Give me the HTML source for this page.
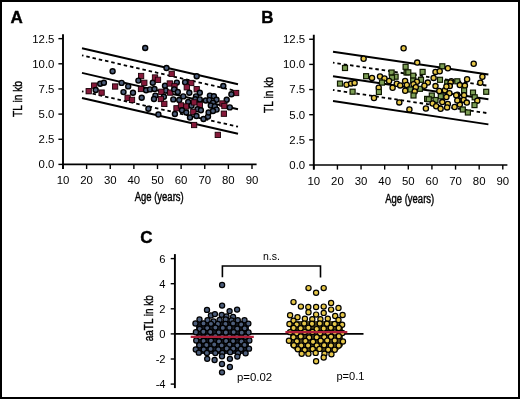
<!DOCTYPE html>
<html><head><meta charset="utf-8"><style>
html,body{margin:0;padding:0;background:#fff;}
svg{display:block;font-family:"Liberation Sans",sans-serif;will-change:transform;}
text{fill:#000;}
</style></head><body>
<svg width="520" height="399" viewBox="0 0 520 399">
<rect x="0" y="0" width="520" height="399" fill="#fff"/>
<line x1="63.0" y1="34.150000000000006" x2="63.0" y2="169.0" stroke="#000" stroke-width="1.9"/>
<line x1="62.1" y1="164.4" x2="256.6" y2="164.4" stroke="#000" stroke-width="1.7"/>
<line x1="58.4" y1="164.4" x2="63.0" y2="164.4" stroke="#000" stroke-width="1.4"/>
<text x="54.4" y="168.3" font-size="11.4" text-anchor="end" font-weight="normal">0.0</text>
<line x1="58.4" y1="139.25" x2="63.0" y2="139.25" stroke="#000" stroke-width="1.4"/>
<text x="54.4" y="143.15" font-size="11.4" text-anchor="end" font-weight="normal">2.5</text>
<line x1="58.4" y1="114.1" x2="63.0" y2="114.1" stroke="#000" stroke-width="1.4"/>
<text x="54.4" y="118.0" font-size="11.4" text-anchor="end" font-weight="normal">5.0</text>
<line x1="58.4" y1="88.95" x2="63.0" y2="88.95" stroke="#000" stroke-width="1.4"/>
<text x="54.4" y="92.85000000000001" font-size="11.4" text-anchor="end" font-weight="normal">7.5</text>
<line x1="58.4" y1="63.8" x2="63.0" y2="63.8" stroke="#000" stroke-width="1.4"/>
<text x="54.4" y="67.7" font-size="11.4" text-anchor="end" font-weight="normal">10.0</text>
<line x1="58.4" y1="38.650000000000006" x2="63.0" y2="38.650000000000006" stroke="#000" stroke-width="1.4"/>
<text x="54.4" y="42.550000000000004" font-size="11.4" text-anchor="end" font-weight="normal">12.5</text>
<line x1="63.0" y1="164.4" x2="63.0" y2="169.0" stroke="#000" stroke-width="1.4"/>
<text x="63.0" y="183.70000000000002" font-size="11.4" text-anchor="middle" font-weight="normal">10</text>
<line x1="86.625" y1="164.4" x2="86.625" y2="169.0" stroke="#000" stroke-width="1.4"/>
<text x="86.625" y="183.70000000000002" font-size="11.4" text-anchor="middle" font-weight="normal">20</text>
<line x1="110.25" y1="164.4" x2="110.25" y2="169.0" stroke="#000" stroke-width="1.4"/>
<text x="110.25" y="183.70000000000002" font-size="11.4" text-anchor="middle" font-weight="normal">30</text>
<line x1="133.875" y1="164.4" x2="133.875" y2="169.0" stroke="#000" stroke-width="1.4"/>
<text x="133.875" y="183.70000000000002" font-size="11.4" text-anchor="middle" font-weight="normal">40</text>
<line x1="157.5" y1="164.4" x2="157.5" y2="169.0" stroke="#000" stroke-width="1.4"/>
<text x="157.5" y="183.70000000000002" font-size="11.4" text-anchor="middle" font-weight="normal">50</text>
<line x1="181.125" y1="164.4" x2="181.125" y2="169.0" stroke="#000" stroke-width="1.4"/>
<text x="181.125" y="183.70000000000002" font-size="11.4" text-anchor="middle" font-weight="normal">60</text>
<line x1="204.75" y1="164.4" x2="204.75" y2="169.0" stroke="#000" stroke-width="1.4"/>
<text x="204.75" y="183.70000000000002" font-size="11.4" text-anchor="middle" font-weight="normal">70</text>
<line x1="228.375" y1="164.4" x2="228.375" y2="169.0" stroke="#000" stroke-width="1.4"/>
<text x="228.375" y="183.70000000000002" font-size="11.4" text-anchor="middle" font-weight="normal">80</text>
<line x1="252.0" y1="164.4" x2="252.0" y2="169.0" stroke="#000" stroke-width="1.4"/>
<text x="252.0" y="183.70000000000002" font-size="11.4" text-anchor="middle" font-weight="normal">90</text>
<text x="10.5" y="22.8" font-size="17" text-anchor="start" font-weight="bold" stroke="#000" stroke-width="0.4">A</text>
<line x1="313.8" y1="34.75" x2="313.8" y2="169.6" stroke="#000" stroke-width="1.9"/>
<line x1="312.90000000000003" y1="165.0" x2="507.40000000000003" y2="165.0" stroke="#000" stroke-width="1.7"/>
<line x1="309.2" y1="165.0" x2="313.8" y2="165.0" stroke="#000" stroke-width="1.4"/>
<text x="305.2" y="168.9" font-size="11.4" text-anchor="end" font-weight="normal">0.0</text>
<line x1="309.2" y1="139.85" x2="313.8" y2="139.85" stroke="#000" stroke-width="1.4"/>
<text x="305.2" y="143.75" font-size="11.4" text-anchor="end" font-weight="normal">2.5</text>
<line x1="309.2" y1="114.69999999999999" x2="313.8" y2="114.69999999999999" stroke="#000" stroke-width="1.4"/>
<text x="305.2" y="118.6" font-size="11.4" text-anchor="end" font-weight="normal">5.0</text>
<line x1="309.2" y1="89.55" x2="313.8" y2="89.55" stroke="#000" stroke-width="1.4"/>
<text x="305.2" y="93.45" font-size="11.4" text-anchor="end" font-weight="normal">7.5</text>
<line x1="309.2" y1="64.39999999999999" x2="313.8" y2="64.39999999999999" stroke="#000" stroke-width="1.4"/>
<text x="305.2" y="68.3" font-size="11.4" text-anchor="end" font-weight="normal">10.0</text>
<line x1="309.2" y1="39.25" x2="313.8" y2="39.25" stroke="#000" stroke-width="1.4"/>
<text x="305.2" y="43.15" font-size="11.4" text-anchor="end" font-weight="normal">12.5</text>
<line x1="313.8" y1="165.0" x2="313.8" y2="169.6" stroke="#000" stroke-width="1.4"/>
<text x="313.8" y="184.9" font-size="11.4" text-anchor="middle" font-weight="normal">10</text>
<line x1="337.425" y1="165.0" x2="337.425" y2="169.6" stroke="#000" stroke-width="1.4"/>
<text x="337.425" y="184.9" font-size="11.4" text-anchor="middle" font-weight="normal">20</text>
<line x1="361.05" y1="165.0" x2="361.05" y2="169.6" stroke="#000" stroke-width="1.4"/>
<text x="361.05" y="184.9" font-size="11.4" text-anchor="middle" font-weight="normal">30</text>
<line x1="384.675" y1="165.0" x2="384.675" y2="169.6" stroke="#000" stroke-width="1.4"/>
<text x="384.675" y="184.9" font-size="11.4" text-anchor="middle" font-weight="normal">40</text>
<line x1="408.3" y1="165.0" x2="408.3" y2="169.6" stroke="#000" stroke-width="1.4"/>
<text x="408.3" y="184.9" font-size="11.4" text-anchor="middle" font-weight="normal">50</text>
<line x1="431.925" y1="165.0" x2="431.925" y2="169.6" stroke="#000" stroke-width="1.4"/>
<text x="431.925" y="184.9" font-size="11.4" text-anchor="middle" font-weight="normal">60</text>
<line x1="455.55" y1="165.0" x2="455.55" y2="169.6" stroke="#000" stroke-width="1.4"/>
<text x="455.55" y="184.9" font-size="11.4" text-anchor="middle" font-weight="normal">70</text>
<line x1="479.175" y1="165.0" x2="479.175" y2="169.6" stroke="#000" stroke-width="1.4"/>
<text x="479.175" y="184.9" font-size="11.4" text-anchor="middle" font-weight="normal">80</text>
<line x1="502.8" y1="165.0" x2="502.8" y2="169.6" stroke="#000" stroke-width="1.4"/>
<text x="502.8" y="184.9" font-size="11.4" text-anchor="middle" font-weight="normal">90</text>
<text x="261.3" y="22.8" font-size="17" text-anchor="start" font-weight="bold" stroke="#000" stroke-width="0.4">B</text>
<line x1="82" y1="48.3" x2="238" y2="84.2" stroke="#000" stroke-width="1.9"/>
<line x1="82" y1="55.4" x2="238" y2="91.4" stroke="#000" stroke-width="1.8" stroke-dasharray="3.5 2.9" stroke-dashoffset="2"/>
<line x1="82" y1="72.9" x2="238" y2="109.2" stroke="#000" stroke-width="1.9"/>
<line x1="82" y1="91.30000000000001" x2="238" y2="126.7" stroke="#000" stroke-width="1.8" stroke-dasharray="3.5 2.9" stroke-dashoffset="2"/>
<line x1="82" y1="98.0" x2="238" y2="133.8" stroke="#000" stroke-width="1.9"/>
<line x1="333" y1="51.8" x2="488.4" y2="74.5" stroke="#000" stroke-width="1.9"/>
<line x1="333" y1="62.699999999999996" x2="488.4" y2="85.80000000000001" stroke="#000" stroke-width="1.8" stroke-dasharray="3.5 2.9" stroke-dashoffset="2"/>
<line x1="333" y1="76.2" x2="488.4" y2="99.30000000000001" stroke="#000" stroke-width="1.9"/>
<line x1="333" y1="90.0" x2="488.4" y2="113.30000000000001" stroke="#000" stroke-width="1.8" stroke-dasharray="3.5 2.9" stroke-dashoffset="2"/>
<line x1="333" y1="101.0" x2="488.4" y2="124.4" stroke="#000" stroke-width="1.9"/>
<text transform="translate(21.9,99.0) rotate(-90)" font-size="13.2" text-anchor="middle" textLength="36" lengthAdjust="spacingAndGlyphs" font-weight="normal" stroke="#000" stroke-width="0.4">TL in kb</text>
<text transform="translate(272.5,95.0) rotate(-90)" font-size="13.2" text-anchor="middle" textLength="36" lengthAdjust="spacingAndGlyphs" font-weight="normal" stroke="#000" stroke-width="0.4">TL in kb</text>
<text x="159.2" y="200.8" font-size="12.5" text-anchor="middle" textLength="49" lengthAdjust="spacingAndGlyphs" font-weight="normal" stroke="#000" stroke-width="0.4">Age (years)</text>
<text x="409.7" y="203.4" font-size="12.5" text-anchor="middle" textLength="49" lengthAdjust="spacingAndGlyphs" font-weight="normal" stroke="#000" stroke-width="0.4">Age (years)</text>
<line x1="174.9" y1="254.09999999999997" x2="174.9" y2="388.09999999999997" stroke="#000" stroke-width="1.9"/>
<line x1="170.70000000000002" y1="258.59999999999997" x2="174.9" y2="258.59999999999997" stroke="#000" stroke-width="1.4"/>
<text x="165.6" y="262.49999999999994" font-size="11.2" text-anchor="end" font-weight="normal">6</text>
<line x1="170.70000000000002" y1="283.7" x2="174.9" y2="283.7" stroke="#000" stroke-width="1.4"/>
<text x="165.6" y="287.59999999999997" font-size="11.2" text-anchor="end" font-weight="normal">4</text>
<line x1="170.70000000000002" y1="308.79999999999995" x2="174.9" y2="308.79999999999995" stroke="#000" stroke-width="1.4"/>
<text x="165.6" y="312.69999999999993" font-size="11.2" text-anchor="end" font-weight="normal">2</text>
<line x1="170.70000000000002" y1="333.9" x2="174.9" y2="333.9" stroke="#000" stroke-width="1.4"/>
<text x="165.6" y="337.79999999999995" font-size="11.2" text-anchor="end" font-weight="normal">0</text>
<line x1="170.70000000000002" y1="359.0" x2="174.9" y2="359.0" stroke="#000" stroke-width="1.4"/>
<text x="165.6" y="362.9" font-size="11.2" text-anchor="end" font-weight="normal">-2</text>
<line x1="170.70000000000002" y1="384.09999999999997" x2="174.9" y2="384.09999999999997" stroke="#000" stroke-width="1.4"/>
<text x="165.6" y="387.99999999999994" font-size="11.2" text-anchor="end" font-weight="normal">-4</text>
<line x1="174.9" y1="333.9" x2="363.5" y2="333.9" stroke="#000" stroke-width="1.8"/>
<text x="140.3" y="243.3" font-size="17" text-anchor="start" font-weight="bold" stroke="#000" stroke-width="0.4">C</text>
<text transform="translate(152.8,318.2) rotate(-90)" font-size="13.2" text-anchor="middle" textLength="46" lengthAdjust="spacingAndGlyphs" font-weight="normal" stroke="#000" stroke-width="0.4">aaTL in kb</text>
<path d="M222.4 277.3 V266 H320.5 V277.5" fill="none" stroke="#000" stroke-width="1.6"/>
<text x="271.4" y="259.6" font-size="10.5" text-anchor="middle" font-weight="normal">n.s.</text>
<text x="236.9" y="380.6" font-size="11.4" text-anchor="start" font-weight="normal">p=0.02</text>
<text x="336.4" y="380.0" font-size="11.1" text-anchor="start" font-weight="normal">p=0.1</text>
<circle cx="145.2" cy="48.0" r="2.5" fill="#4c5d7a" stroke="#000" stroke-width="1.4"/>
<circle cx="112.6" cy="71.3" r="2.5" fill="#4c5d7a" stroke="#000" stroke-width="1.4"/>
<circle cx="100.2" cy="83.7" r="2.5" fill="#4c5d7a" stroke="#000" stroke-width="1.4"/>
<circle cx="103.9" cy="82.8" r="2.5" fill="#4c5d7a" stroke="#000" stroke-width="1.4"/>
<rect x="91.55" y="82.95" width="5.3" height="5.3" fill="#86193a" stroke="#1a0008" stroke-width="0.9"/>
<rect x="86.05" y="88.55" width="5.3" height="5.3" fill="#86193a" stroke="#1a0008" stroke-width="0.9"/>
<circle cx="95.7" cy="90.0" r="2.5" fill="#4c5d7a" stroke="#000" stroke-width="1.4"/>
<rect x="98.95" y="89.95" width="5.3" height="5.3" fill="#86193a" stroke="#1a0008" stroke-width="0.9"/>
<rect x="112.45" y="83.85" width="5.3" height="5.3" fill="#86193a" stroke="#1a0008" stroke-width="0.9"/>
<circle cx="121.6" cy="82.9" r="2.5" fill="#4c5d7a" stroke="#000" stroke-width="1.4"/>
<circle cx="128.2" cy="86.4" r="2.5" fill="#4c5d7a" stroke="#000" stroke-width="1.4"/>
<circle cx="123.5" cy="92.1" r="2.5" fill="#4c5d7a" stroke="#000" stroke-width="1.4"/>
<circle cx="133.0" cy="92.7" r="2.5" fill="#4c5d7a" stroke="#000" stroke-width="1.4"/>
<rect x="124.95" y="95.15" width="5.3" height="5.3" fill="#86193a" stroke="#1a0008" stroke-width="0.9"/>
<rect x="129.35" y="97.25" width="5.3" height="5.3" fill="#86193a" stroke="#1a0008" stroke-width="0.9"/>
<circle cx="141.7" cy="97.8" r="2.5" fill="#4c5d7a" stroke="#000" stroke-width="1.4"/>
<rect x="138.45" y="73.35" width="5.3" height="5.3" fill="#86193a" stroke="#1a0008" stroke-width="0.9"/>
<circle cx="138.4" cy="80.6" r="2.5" fill="#4c5d7a" stroke="#000" stroke-width="1.4"/>
<rect x="141.65" y="80.15" width="5.3" height="5.3" fill="#86193a" stroke="#1a0008" stroke-width="0.9"/>
<rect x="138.35" y="86.35" width="5.3" height="5.3" fill="#86193a" stroke="#1a0008" stroke-width="0.9"/>
<circle cx="146.1" cy="90.3" r="2.5" fill="#4c5d7a" stroke="#000" stroke-width="1.4"/>
<circle cx="150.0" cy="89.4" r="2.5" fill="#4c5d7a" stroke="#000" stroke-width="1.4"/>
<circle cx="152.8" cy="82.8" r="2.5" fill="#4c5d7a" stroke="#000" stroke-width="1.4"/>
<rect x="152.35" y="74.85" width="5.3" height="5.3" fill="#86193a" stroke="#1a0008" stroke-width="0.9"/>
<rect x="155.35" y="77.15" width="5.3" height="5.3" fill="#86193a" stroke="#1a0008" stroke-width="0.9"/>
<circle cx="154.5" cy="89.0" r="2.5" fill="#4c5d7a" stroke="#000" stroke-width="1.4"/>
<circle cx="155.4" cy="95.6" r="2.5" fill="#4c5d7a" stroke="#000" stroke-width="1.4"/>
<circle cx="154.0" cy="99.0" r="2.5" fill="#4c5d7a" stroke="#000" stroke-width="1.4"/>
<circle cx="148.4" cy="108.8" r="2.5" fill="#4c5d7a" stroke="#000" stroke-width="1.4"/>
<circle cx="158.4" cy="114.5" r="2.5" fill="#4c5d7a" stroke="#000" stroke-width="1.4"/>
<circle cx="166.5" cy="68.0" r="2.5" fill="#4c5d7a" stroke="#000" stroke-width="1.4"/>
<rect x="169.05" y="71.15" width="5.3" height="5.3" fill="#86193a" stroke="#1a0008" stroke-width="0.9"/>
<circle cx="165.0" cy="85.8" r="2.5" fill="#4c5d7a" stroke="#000" stroke-width="1.4"/>
<rect x="167.15" y="80.85" width="5.3" height="5.3" fill="#86193a" stroke="#1a0008" stroke-width="0.9"/>
<circle cx="176.8" cy="82.6" r="2.5" fill="#4c5d7a" stroke="#000" stroke-width="1.4"/>
<rect x="171.85" y="83.65" width="5.3" height="5.3" fill="#86193a" stroke="#1a0008" stroke-width="0.9"/>
<circle cx="165.8" cy="90.6" r="2.5" fill="#4c5d7a" stroke="#000" stroke-width="1.4"/>
<rect x="158.65" y="89.15" width="5.3" height="5.3" fill="#86193a" stroke="#1a0008" stroke-width="0.9"/>
<rect x="167.55" y="89.95" width="5.3" height="5.3" fill="#86193a" stroke="#1a0008" stroke-width="0.9"/>
<circle cx="174.2" cy="89.4" r="2.5" fill="#4c5d7a" stroke="#000" stroke-width="1.4"/>
<circle cx="177.8" cy="92.0" r="2.5" fill="#4c5d7a" stroke="#000" stroke-width="1.4"/>
<circle cx="163.9" cy="96.8" r="2.5" fill="#4c5d7a" stroke="#000" stroke-width="1.4"/>
<rect x="158.25" y="96.35" width="5.3" height="5.3" fill="#86193a" stroke="#1a0008" stroke-width="0.9"/>
<rect x="161.65" y="101.25" width="5.3" height="5.3" fill="#86193a" stroke="#1a0008" stroke-width="0.9"/>
<circle cx="173.3" cy="99.4" r="2.5" fill="#4c5d7a" stroke="#000" stroke-width="1.4"/>
<circle cx="179.2" cy="100.0" r="2.5" fill="#4c5d7a" stroke="#000" stroke-width="1.4"/>
<rect x="173.85" y="105.65" width="5.3" height="5.3" fill="#86193a" stroke="#1a0008" stroke-width="0.9"/>
<circle cx="174.9" cy="114.0" r="2.5" fill="#4c5d7a" stroke="#000" stroke-width="1.4"/>
<circle cx="196.7" cy="76.3" r="2.5" fill="#4c5d7a" stroke="#000" stroke-width="1.4"/>
<circle cx="185.1" cy="82.3" r="2.5" fill="#4c5d7a" stroke="#000" stroke-width="1.4"/>
<rect x="188.55" y="80.35" width="5.3" height="5.3" fill="#86193a" stroke="#1a0008" stroke-width="0.9"/>
<rect x="184.15" y="84.65" width="5.3" height="5.3" fill="#86193a" stroke="#1a0008" stroke-width="0.9"/>
<rect x="194.05" y="86.55" width="5.3" height="5.3" fill="#86193a" stroke="#1a0008" stroke-width="0.9"/>
<circle cx="199.8" cy="92.8" r="2.5" fill="#4c5d7a" stroke="#000" stroke-width="1.4"/>
<circle cx="189.3" cy="92.8" r="2.5" fill="#4c5d7a" stroke="#000" stroke-width="1.4"/>
<circle cx="183.3" cy="96.4" r="2.5" fill="#4c5d7a" stroke="#000" stroke-width="1.4"/>
<circle cx="196.0" cy="96.4" r="2.5" fill="#4c5d7a" stroke="#000" stroke-width="1.4"/>
<circle cx="195.3" cy="99.2" r="2.5" fill="#4c5d7a" stroke="#000" stroke-width="1.4"/>
<circle cx="199.8" cy="99.4" r="2.5" fill="#4c5d7a" stroke="#000" stroke-width="1.4"/>
<circle cx="205.8" cy="100.5" r="2.5" fill="#4c5d7a" stroke="#000" stroke-width="1.4"/>
<circle cx="188.2" cy="102.0" r="2.5" fill="#4c5d7a" stroke="#000" stroke-width="1.4"/>
<rect x="178.35" y="102.75" width="5.3" height="5.3" fill="#86193a" stroke="#1a0008" stroke-width="0.9"/>
<rect x="183.65" y="103.85" width="5.3" height="5.3" fill="#86193a" stroke="#1a0008" stroke-width="0.9"/>
<circle cx="191.5" cy="105.8" r="2.5" fill="#4c5d7a" stroke="#000" stroke-width="1.4"/>
<rect x="191.55" y="99.75" width="5.3" height="5.3" fill="#86193a" stroke="#1a0008" stroke-width="0.9"/>
<rect x="197.15" y="102.35" width="5.3" height="5.3" fill="#86193a" stroke="#1a0008" stroke-width="0.9"/>
<circle cx="182.0" cy="110.3" r="2.5" fill="#4c5d7a" stroke="#000" stroke-width="1.4"/>
<circle cx="197.5" cy="109.2" r="2.5" fill="#4c5d7a" stroke="#000" stroke-width="1.4"/>
<circle cx="200.9" cy="110.3" r="2.5" fill="#4c5d7a" stroke="#000" stroke-width="1.4"/>
<rect x="190.65" y="109.35" width="5.3" height="5.3" fill="#86193a" stroke="#1a0008" stroke-width="0.9"/>
<circle cx="186.3" cy="112.5" r="2.5" fill="#4c5d7a" stroke="#000" stroke-width="1.4"/>
<circle cx="190.0" cy="117.5" r="2.5" fill="#4c5d7a" stroke="#000" stroke-width="1.4"/>
<circle cx="196.5" cy="116.0" r="2.5" fill="#4c5d7a" stroke="#000" stroke-width="1.4"/>
<circle cx="203.5" cy="119.0" r="2.5" fill="#4c5d7a" stroke="#000" stroke-width="1.4"/>
<circle cx="208.0" cy="116.6" r="2.5" fill="#4c5d7a" stroke="#000" stroke-width="1.4"/>
<circle cx="208.6" cy="112.5" r="2.5" fill="#4c5d7a" stroke="#000" stroke-width="1.4"/>
<rect x="191.45" y="122.35" width="5.3" height="5.3" fill="#86193a" stroke="#1a0008" stroke-width="0.9"/>
<circle cx="209.9" cy="95.6" r="2.5" fill="#4c5d7a" stroke="#000" stroke-width="1.4"/>
<circle cx="213.9" cy="96.3" r="2.5" fill="#4c5d7a" stroke="#000" stroke-width="1.4"/>
<circle cx="209.4" cy="100.1" r="2.5" fill="#4c5d7a" stroke="#000" stroke-width="1.4"/>
<circle cx="216.5" cy="99.8" r="2.5" fill="#4c5d7a" stroke="#000" stroke-width="1.4"/>
<circle cx="213.0" cy="102.8" r="2.5" fill="#4c5d7a" stroke="#000" stroke-width="1.4"/>
<circle cx="210.8" cy="105.5" r="2.5" fill="#4c5d7a" stroke="#000" stroke-width="1.4"/>
<circle cx="214.8" cy="106.4" r="2.5" fill="#4c5d7a" stroke="#000" stroke-width="1.4"/>
<circle cx="216.6" cy="109.6" r="2.5" fill="#4c5d7a" stroke="#000" stroke-width="1.4"/>
<circle cx="213.0" cy="111.0" r="2.5" fill="#4c5d7a" stroke="#000" stroke-width="1.4"/>
<circle cx="223.3" cy="86.0" r="2.5" fill="#4c5d7a" stroke="#000" stroke-width="1.4"/>
<rect x="233.45" y="90.35" width="5.3" height="5.3" fill="#86193a" stroke="#1a0008" stroke-width="0.9"/>
<circle cx="231.4" cy="94.3" r="2.5" fill="#4c5d7a" stroke="#000" stroke-width="1.4"/>
<circle cx="226.7" cy="99.7" r="2.5" fill="#4c5d7a" stroke="#000" stroke-width="1.4"/>
<rect x="219.75" y="100.85" width="5.3" height="5.3" fill="#86193a" stroke="#1a0008" stroke-width="0.9"/>
<rect x="221.75" y="103.35" width="5.3" height="5.3" fill="#86193a" stroke="#1a0008" stroke-width="0.9"/>
<circle cx="229.8" cy="107.4" r="2.5" fill="#4c5d7a" stroke="#000" stroke-width="1.4"/>
<rect x="221.25" y="111.05" width="5.3" height="5.3" fill="#86193a" stroke="#1a0008" stroke-width="0.9"/>
<rect x="215.15" y="132.25" width="5.3" height="5.3" fill="#86193a" stroke="#1a0008" stroke-width="0.9"/>
<circle cx="403.6" cy="48.3" r="2.6" fill="#e5c648" stroke="#000" stroke-width="1.3"/>
<circle cx="363.6" cy="58.7" r="2.6" fill="#e5c648" stroke="#000" stroke-width="1.3"/>
<rect x="342.50" y="65.50" width="5.0" height="5.0" fill="#7c9e55" stroke="#101a00" stroke-width="1.2"/>
<rect x="363.60" y="73.70" width="5.0" height="5.0" fill="#7c9e55" stroke="#101a00" stroke-width="1.2"/>
<rect x="337.50" y="81.10" width="5.0" height="5.0" fill="#7c9e55" stroke="#101a00" stroke-width="1.2"/>
<circle cx="346.5" cy="84.8" r="2.6" fill="#e5c648" stroke="#000" stroke-width="1.3"/>
<circle cx="351.1" cy="83.6" r="2.6" fill="#e5c648" stroke="#000" stroke-width="1.3"/>
<circle cx="354.6" cy="82.9" r="2.6" fill="#e5c648" stroke="#000" stroke-width="1.3"/>
<rect x="350.10" y="89.20" width="5.0" height="5.0" fill="#7c9e55" stroke="#101a00" stroke-width="1.2"/>
<circle cx="372.0" cy="77.9" r="2.6" fill="#e5c648" stroke="#000" stroke-width="1.3"/>
<circle cx="380.0" cy="76.5" r="2.6" fill="#e5c648" stroke="#000" stroke-width="1.3"/>
<circle cx="384.5" cy="78.5" r="2.6" fill="#e5c648" stroke="#000" stroke-width="1.3"/>
<rect x="389.10" y="70.00" width="5.0" height="5.0" fill="#7c9e55" stroke="#101a00" stroke-width="1.2"/>
<rect x="393.10" y="74.20" width="5.0" height="5.0" fill="#7c9e55" stroke="#101a00" stroke-width="1.2"/>
<rect x="389.50" y="75.20" width="5.0" height="5.0" fill="#7c9e55" stroke="#101a00" stroke-width="1.2"/>
<circle cx="389.1" cy="81.0" r="2.6" fill="#e5c648" stroke="#000" stroke-width="1.3"/>
<rect x="379.50" y="80.10" width="5.0" height="5.0" fill="#7c9e55" stroke="#101a00" stroke-width="1.2"/>
<circle cx="378.7" cy="87.8" r="2.6" fill="#e5c648" stroke="#000" stroke-width="1.3"/>
<rect x="376.40" y="89.50" width="5.0" height="5.0" fill="#7c9e55" stroke="#101a00" stroke-width="1.2"/>
<circle cx="392.6" cy="87.8" r="2.6" fill="#e5c648" stroke="#000" stroke-width="1.3"/>
<circle cx="396.8" cy="83.7" r="2.6" fill="#e5c648" stroke="#000" stroke-width="1.3"/>
<circle cx="400.2" cy="85.4" r="2.6" fill="#e5c648" stroke="#000" stroke-width="1.3"/>
<circle cx="405.1" cy="81.0" r="2.6" fill="#e5c648" stroke="#000" stroke-width="1.3"/>
<circle cx="405.2" cy="90.8" r="2.6" fill="#e5c648" stroke="#000" stroke-width="1.3"/>
<rect x="403.10" y="64.30" width="5.0" height="5.0" fill="#7c9e55" stroke="#101a00" stroke-width="1.2"/>
<rect x="404.10" y="70.00" width="5.0" height="5.0" fill="#7c9e55" stroke="#101a00" stroke-width="1.2"/>
<circle cx="374.0" cy="98.0" r="2.6" fill="#e5c648" stroke="#000" stroke-width="1.3"/>
<circle cx="399.3" cy="102.4" r="2.6" fill="#e5c648" stroke="#000" stroke-width="1.3"/>
<circle cx="417.2" cy="62.6" r="2.6" fill="#e5c648" stroke="#000" stroke-width="1.3"/>
<rect x="405.80" y="69.80" width="5.0" height="5.0" fill="#7c9e55" stroke="#101a00" stroke-width="1.2"/>
<rect x="410.70" y="73.20" width="5.0" height="5.0" fill="#7c9e55" stroke="#101a00" stroke-width="1.2"/>
<rect x="420.10" y="69.40" width="5.0" height="5.0" fill="#7c9e55" stroke="#101a00" stroke-width="1.2"/>
<rect x="418.50" y="77.30" width="5.0" height="5.0" fill="#7c9e55" stroke="#101a00" stroke-width="1.2"/>
<rect x="410.70" y="78.10" width="5.0" height="5.0" fill="#7c9e55" stroke="#101a00" stroke-width="1.2"/>
<circle cx="416.9" cy="81.8" r="2.6" fill="#e5c648" stroke="#000" stroke-width="1.3"/>
<circle cx="427.8" cy="82.6" r="2.6" fill="#e5c648" stroke="#000" stroke-width="1.3"/>
<rect x="439.80" y="63.80" width="5.0" height="5.0" fill="#7c9e55" stroke="#101a00" stroke-width="1.2"/>
<circle cx="447.9" cy="68.2" r="2.6" fill="#e5c648" stroke="#000" stroke-width="1.3"/>
<circle cx="435.5" cy="71.9" r="2.6" fill="#e5c648" stroke="#000" stroke-width="1.3"/>
<circle cx="439.7" cy="71.2" r="2.6" fill="#e5c648" stroke="#000" stroke-width="1.3"/>
<circle cx="433.6" cy="77.9" r="2.6" fill="#e5c648" stroke="#000" stroke-width="1.3"/>
<rect x="437.50" y="77.30" width="5.0" height="5.0" fill="#7c9e55" stroke="#101a00" stroke-width="1.2"/>
<rect x="444.70" y="80.30" width="5.0" height="5.0" fill="#7c9e55" stroke="#101a00" stroke-width="1.2"/>
<circle cx="451.3" cy="81.3" r="2.6" fill="#e5c648" stroke="#000" stroke-width="1.3"/>
<rect x="454.80" y="78.80" width="5.0" height="5.0" fill="#7c9e55" stroke="#101a00" stroke-width="1.2"/>
<circle cx="450.6" cy="82.4" r="2.6" fill="#e5c648" stroke="#000" stroke-width="1.3"/>
<circle cx="473.7" cy="63.8" r="2.6" fill="#e5c648" stroke="#000" stroke-width="1.3"/>
<circle cx="482.4" cy="76.7" r="2.6" fill="#e5c648" stroke="#000" stroke-width="1.3"/>
<circle cx="467.1" cy="79.3" r="2.6" fill="#e5c648" stroke="#000" stroke-width="1.3"/>
<circle cx="480.3" cy="82.8" r="2.6" fill="#e5c648" stroke="#000" stroke-width="1.3"/>
<circle cx="459.8" cy="85.1" r="2.6" fill="#e5c648" stroke="#000" stroke-width="1.3"/>
<circle cx="464.9" cy="85.6" r="2.6" fill="#e5c648" stroke="#000" stroke-width="1.3"/>
<rect x="483.70" y="89.30" width="5.0" height="5.0" fill="#7c9e55" stroke="#101a00" stroke-width="1.2"/>
<rect x="461.60" y="88.00" width="5.0" height="5.0" fill="#7c9e55" stroke="#101a00" stroke-width="1.2"/>
<rect x="470.50" y="90.10" width="5.0" height="5.0" fill="#7c9e55" stroke="#101a00" stroke-width="1.2"/>
<rect x="472.20" y="94.80" width="5.0" height="5.0" fill="#7c9e55" stroke="#101a00" stroke-width="1.2"/>
<circle cx="477.3" cy="100.7" r="2.6" fill="#e5c648" stroke="#000" stroke-width="1.3"/>
<rect x="472.00" y="102.60" width="5.0" height="5.0" fill="#7c9e55" stroke="#101a00" stroke-width="1.2"/>
<circle cx="457.3" cy="94.8" r="2.6" fill="#e5c648" stroke="#000" stroke-width="1.3"/>
<circle cx="464.1" cy="95.2" r="2.6" fill="#e5c648" stroke="#000" stroke-width="1.3"/>
<circle cx="458.6" cy="100.3" r="2.6" fill="#e5c648" stroke="#000" stroke-width="1.3"/>
<circle cx="463.7" cy="99.9" r="2.6" fill="#e5c648" stroke="#000" stroke-width="1.3"/>
<circle cx="466.8" cy="102.6" r="2.6" fill="#e5c648" stroke="#000" stroke-width="1.3"/>
<circle cx="459.8" cy="104.6" r="2.6" fill="#e5c648" stroke="#000" stroke-width="1.3"/>
<rect x="460.30" y="107.00" width="5.0" height="5.0" fill="#7c9e55" stroke="#101a00" stroke-width="1.2"/>
<rect x="465.40" y="110.00" width="5.0" height="5.0" fill="#7c9e55" stroke="#101a00" stroke-width="1.2"/>
<circle cx="406.8" cy="85.0" r="2.6" fill="#e5c648" stroke="#000" stroke-width="1.3"/>
<circle cx="413.5" cy="84.3" r="2.6" fill="#e5c648" stroke="#000" stroke-width="1.3"/>
<rect x="408.00" y="87.00" width="5.0" height="5.0" fill="#7c9e55" stroke="#101a00" stroke-width="1.2"/>
<rect x="417.40" y="86.30" width="5.0" height="5.0" fill="#7c9e55" stroke="#101a00" stroke-width="1.2"/>
<circle cx="415.8" cy="87.3" r="2.6" fill="#e5c648" stroke="#000" stroke-width="1.3"/>
<circle cx="414.7" cy="91.4" r="2.6" fill="#e5c648" stroke="#000" stroke-width="1.3"/>
<rect x="411.00" y="93.00" width="5.0" height="5.0" fill="#7c9e55" stroke="#101a00" stroke-width="1.2"/>
<circle cx="424.4" cy="85.8" r="2.6" fill="#e5c648" stroke="#000" stroke-width="1.3"/>
<rect x="424.60" y="96.40" width="5.0" height="5.0" fill="#7c9e55" stroke="#101a00" stroke-width="1.2"/>
<circle cx="409.4" cy="109.4" r="2.6" fill="#e5c648" stroke="#000" stroke-width="1.3"/>
<circle cx="425.9" cy="108.5" r="2.6" fill="#e5c648" stroke="#000" stroke-width="1.3"/>
<rect x="429.30" y="93.00" width="5.0" height="5.0" fill="#7c9e55" stroke="#101a00" stroke-width="1.2"/>
<rect x="438.30" y="93.80" width="5.0" height="5.0" fill="#7c9e55" stroke="#101a00" stroke-width="1.2"/>
<rect x="433.00" y="97.50" width="5.0" height="5.0" fill="#7c9e55" stroke="#101a00" stroke-width="1.2"/>
<rect x="426.30" y="96.80" width="5.0" height="5.0" fill="#7c9e55" stroke="#101a00" stroke-width="1.2"/>
<circle cx="435.5" cy="86.1" r="2.6" fill="#e5c648" stroke="#000" stroke-width="1.3"/>
<circle cx="439.3" cy="91.0" r="2.6" fill="#e5c648" stroke="#000" stroke-width="1.3"/>
<circle cx="444.9" cy="90.3" r="2.6" fill="#e5c648" stroke="#000" stroke-width="1.3"/>
<circle cx="449.8" cy="86.1" r="2.6" fill="#e5c648" stroke="#000" stroke-width="1.3"/>
<circle cx="446.4" cy="86.5" r="2.6" fill="#e5c648" stroke="#000" stroke-width="1.3"/>
<circle cx="449.4" cy="93.3" r="2.6" fill="#e5c648" stroke="#000" stroke-width="1.3"/>
<circle cx="446.4" cy="97.0" r="2.6" fill="#e5c648" stroke="#000" stroke-width="1.3"/>
<circle cx="442.3" cy="102.1" r="2.6" fill="#e5c648" stroke="#000" stroke-width="1.3"/>
<circle cx="432.6" cy="103.5" r="2.6" fill="#e5c648" stroke="#000" stroke-width="1.3"/>
<circle cx="436.2" cy="106.2" r="2.6" fill="#e5c648" stroke="#000" stroke-width="1.3"/>
<circle cx="440.6" cy="108.7" r="2.6" fill="#e5c648" stroke="#000" stroke-width="1.3"/>
<circle cx="447.8" cy="103.9" r="2.6" fill="#e5c648" stroke="#000" stroke-width="1.3"/>
<circle cx="447.1" cy="107.4" r="2.6" fill="#e5c648" stroke="#000" stroke-width="1.3"/>
<circle cx="454.6" cy="107.0" r="2.6" fill="#e5c648" stroke="#000" stroke-width="1.3"/>
<circle cx="456.2" cy="95.2" r="2.6" fill="#e5c648" stroke="#000" stroke-width="1.3"/>
<circle cx="457.3" cy="100.4" r="2.6" fill="#e5c648" stroke="#000" stroke-width="1.3"/>
<path d="M199 321 L245 321 L249 326 L249 350 L245 354 L200 354 L196 350 L196 326 Z" fill="#151a26"/>
<path d="M293 321 L339 321 L343 326 L343 346 L336 352 L297 352 L290 346 L290 326 Z" fill="#4a4218"/>
<circle cx="222.1" cy="285.0" r="2.55" fill="#4c5d7a" stroke="#000" stroke-width="1.25"/>
<circle cx="222.1" cy="305.6" r="2.55" fill="#4c5d7a" stroke="#000" stroke-width="1.25"/>
<circle cx="207.0" cy="309.9" r="2.55" fill="#4c5d7a" stroke="#000" stroke-width="1.25"/>
<circle cx="229.6" cy="311.1" r="2.55" fill="#4c5d7a" stroke="#000" stroke-width="1.25"/>
<circle cx="237.1" cy="309.6" r="2.55" fill="#4c5d7a" stroke="#000" stroke-width="1.25"/>
<circle cx="210.9" cy="315.5" r="2.55" fill="#4c5d7a" stroke="#000" stroke-width="1.25"/>
<circle cx="214.9" cy="314.1" r="2.55" fill="#4c5d7a" stroke="#000" stroke-width="1.25"/>
<circle cx="221.7" cy="314.8" r="2.55" fill="#4c5d7a" stroke="#000" stroke-width="1.25"/>
<circle cx="226.5" cy="316.5" r="2.55" fill="#4c5d7a" stroke="#000" stroke-width="1.25"/>
<circle cx="233.1" cy="316.8" r="2.55" fill="#4c5d7a" stroke="#000" stroke-width="1.25"/>
<circle cx="199.5" cy="319.5" r="2.55" fill="#4c5d7a" stroke="#000" stroke-width="1.25"/>
<circle cx="207.5" cy="320.2" r="2.55" fill="#4c5d7a" stroke="#000" stroke-width="1.25"/>
<circle cx="213.6" cy="321.5" r="2.55" fill="#4c5d7a" stroke="#000" stroke-width="1.25"/>
<circle cx="219.6" cy="320.0" r="2.55" fill="#4c5d7a" stroke="#000" stroke-width="1.25"/>
<circle cx="225.7" cy="319.5" r="2.55" fill="#4c5d7a" stroke="#000" stroke-width="1.25"/>
<circle cx="231.5" cy="320.5" r="2.55" fill="#4c5d7a" stroke="#000" stroke-width="1.25"/>
<circle cx="237.8" cy="320.2" r="2.55" fill="#4c5d7a" stroke="#000" stroke-width="1.25"/>
<circle cx="244.5" cy="320.2" r="2.55" fill="#4c5d7a" stroke="#000" stroke-width="1.25"/>
<circle cx="195.45" cy="323.51" r="2.55" fill="#4c5d7a" stroke="#000" stroke-width="1.25"/>
<circle cx="203.51" cy="323.4" r="2.55" fill="#4c5d7a" stroke="#000" stroke-width="1.25"/>
<circle cx="210.95" cy="323.81" r="2.55" fill="#4c5d7a" stroke="#000" stroke-width="1.25"/>
<circle cx="217.88" cy="324.01" r="2.55" fill="#4c5d7a" stroke="#000" stroke-width="1.25"/>
<circle cx="225.45" cy="323.91" r="2.55" fill="#4c5d7a" stroke="#000" stroke-width="1.25"/>
<circle cx="233.1" cy="323.43" r="2.55" fill="#4c5d7a" stroke="#000" stroke-width="1.25"/>
<circle cx="241.19" cy="324.46" r="2.55" fill="#4c5d7a" stroke="#000" stroke-width="1.25"/>
<circle cx="248.37" cy="323.61" r="2.55" fill="#4c5d7a" stroke="#000" stroke-width="1.25"/>
<circle cx="199.68" cy="328.83" r="2.55" fill="#4c5d7a" stroke="#000" stroke-width="1.25"/>
<circle cx="207.21" cy="328.06" r="2.55" fill="#4c5d7a" stroke="#000" stroke-width="1.25"/>
<circle cx="215.37" cy="327.57" r="2.55" fill="#4c5d7a" stroke="#000" stroke-width="1.25"/>
<circle cx="222.8" cy="327.91" r="2.55" fill="#4c5d7a" stroke="#000" stroke-width="1.25"/>
<circle cx="229.4" cy="327.66" r="2.55" fill="#4c5d7a" stroke="#000" stroke-width="1.25"/>
<circle cx="237.23" cy="328.64" r="2.55" fill="#4c5d7a" stroke="#000" stroke-width="1.25"/>
<circle cx="244.65" cy="328.31" r="2.55" fill="#4c5d7a" stroke="#000" stroke-width="1.25"/>
<circle cx="195.89" cy="332.22" r="2.55" fill="#4c5d7a" stroke="#000" stroke-width="1.25"/>
<circle cx="203.37" cy="331.79" r="2.55" fill="#4c5d7a" stroke="#000" stroke-width="1.25"/>
<circle cx="210.28" cy="331.99" r="2.55" fill="#4c5d7a" stroke="#000" stroke-width="1.25"/>
<circle cx="218.75" cy="332.3" r="2.55" fill="#4c5d7a" stroke="#000" stroke-width="1.25"/>
<circle cx="225.84" cy="332.52" r="2.55" fill="#4c5d7a" stroke="#000" stroke-width="1.25"/>
<circle cx="233.63" cy="332.12" r="2.55" fill="#4c5d7a" stroke="#000" stroke-width="1.25"/>
<circle cx="241.71" cy="332.68" r="2.55" fill="#4c5d7a" stroke="#000" stroke-width="1.25"/>
<circle cx="248.54" cy="332.5" r="2.55" fill="#4c5d7a" stroke="#000" stroke-width="1.25"/>
<circle cx="199.54" cy="337.13" r="2.55" fill="#4c5d7a" stroke="#000" stroke-width="1.25"/>
<circle cx="207.42" cy="336.3" r="2.55" fill="#4c5d7a" stroke="#000" stroke-width="1.25"/>
<circle cx="215.37" cy="336.07" r="2.55" fill="#4c5d7a" stroke="#000" stroke-width="1.25"/>
<circle cx="222.19" cy="336.96" r="2.55" fill="#4c5d7a" stroke="#000" stroke-width="1.25"/>
<circle cx="229.41" cy="336.58" r="2.55" fill="#4c5d7a" stroke="#000" stroke-width="1.25"/>
<circle cx="236.85" cy="336.84" r="2.55" fill="#4c5d7a" stroke="#000" stroke-width="1.25"/>
<circle cx="245.47" cy="336.7" r="2.55" fill="#4c5d7a" stroke="#000" stroke-width="1.25"/>
<circle cx="196.23" cy="340.54" r="2.55" fill="#4c5d7a" stroke="#000" stroke-width="1.25"/>
<circle cx="203.57" cy="340.93" r="2.55" fill="#4c5d7a" stroke="#000" stroke-width="1.25"/>
<circle cx="211.01" cy="340.74" r="2.55" fill="#4c5d7a" stroke="#000" stroke-width="1.25"/>
<circle cx="218.98" cy="341.42" r="2.55" fill="#4c5d7a" stroke="#000" stroke-width="1.25"/>
<circle cx="226.06" cy="341.03" r="2.55" fill="#4c5d7a" stroke="#000" stroke-width="1.25"/>
<circle cx="233.08" cy="341.08" r="2.55" fill="#4c5d7a" stroke="#000" stroke-width="1.25"/>
<circle cx="241.51" cy="341.49" r="2.55" fill="#4c5d7a" stroke="#000" stroke-width="1.25"/>
<circle cx="249.35" cy="340.5" r="2.55" fill="#4c5d7a" stroke="#000" stroke-width="1.25"/>
<circle cx="199.34" cy="345.24" r="2.55" fill="#4c5d7a" stroke="#000" stroke-width="1.25"/>
<circle cx="206.43" cy="344.95" r="2.55" fill="#4c5d7a" stroke="#000" stroke-width="1.25"/>
<circle cx="214.24" cy="344.46" r="2.55" fill="#4c5d7a" stroke="#000" stroke-width="1.25"/>
<circle cx="221.68" cy="345.38" r="2.55" fill="#4c5d7a" stroke="#000" stroke-width="1.25"/>
<circle cx="229.38" cy="344.65" r="2.55" fill="#4c5d7a" stroke="#000" stroke-width="1.25"/>
<circle cx="237.35" cy="345.52" r="2.55" fill="#4c5d7a" stroke="#000" stroke-width="1.25"/>
<circle cx="244.51" cy="344.93" r="2.55" fill="#4c5d7a" stroke="#000" stroke-width="1.25"/>
<circle cx="195.77" cy="349.54" r="2.55" fill="#4c5d7a" stroke="#000" stroke-width="1.25"/>
<circle cx="203.75" cy="349.51" r="2.55" fill="#4c5d7a" stroke="#000" stroke-width="1.25"/>
<circle cx="210.59" cy="348.88" r="2.55" fill="#4c5d7a" stroke="#000" stroke-width="1.25"/>
<circle cx="218.3" cy="349.54" r="2.55" fill="#4c5d7a" stroke="#000" stroke-width="1.25"/>
<circle cx="226.74" cy="348.51" r="2.55" fill="#4c5d7a" stroke="#000" stroke-width="1.25"/>
<circle cx="233.25" cy="348.62" r="2.55" fill="#4c5d7a" stroke="#000" stroke-width="1.25"/>
<circle cx="240.93" cy="348.98" r="2.55" fill="#4c5d7a" stroke="#000" stroke-width="1.25"/>
<circle cx="249.02" cy="348.67" r="2.55" fill="#4c5d7a" stroke="#000" stroke-width="1.25"/>
<circle cx="198.81" cy="352.69" r="2.55" fill="#4c5d7a" stroke="#000" stroke-width="1.25"/>
<circle cx="206.92" cy="352.89" r="2.55" fill="#4c5d7a" stroke="#000" stroke-width="1.25"/>
<circle cx="215.33" cy="353.07" r="2.55" fill="#4c5d7a" stroke="#000" stroke-width="1.25"/>
<circle cx="222.32" cy="352.96" r="2.55" fill="#4c5d7a" stroke="#000" stroke-width="1.25"/>
<circle cx="230.15" cy="352.18" r="2.55" fill="#4c5d7a" stroke="#000" stroke-width="1.25"/>
<circle cx="238.06" cy="353.19" r="2.55" fill="#4c5d7a" stroke="#000" stroke-width="1.25"/>
<circle cx="245.62" cy="353.22" r="2.55" fill="#4c5d7a" stroke="#000" stroke-width="1.25"/>
<circle cx="207.2" cy="358.8" r="2.55" fill="#4c5d7a" stroke="#000" stroke-width="1.25"/>
<circle cx="214.6" cy="360.0" r="2.55" fill="#4c5d7a" stroke="#000" stroke-width="1.25"/>
<circle cx="222.0" cy="356.3" r="2.55" fill="#4c5d7a" stroke="#000" stroke-width="1.25"/>
<circle cx="229.9" cy="358.8" r="2.55" fill="#4c5d7a" stroke="#000" stroke-width="1.25"/>
<circle cx="237.3" cy="356.6" r="2.55" fill="#4c5d7a" stroke="#000" stroke-width="1.25"/>
<circle cx="222.0" cy="364.0" r="2.55" fill="#4c5d7a" stroke="#000" stroke-width="1.25"/>
<circle cx="229.9" cy="367.0" r="2.55" fill="#4c5d7a" stroke="#000" stroke-width="1.25"/>
<circle cx="222.0" cy="372.3" r="2.55" fill="#4c5d7a" stroke="#000" stroke-width="1.25"/>
<circle cx="308.5" cy="288.1" r="2.6" fill="#e5c648" stroke="#000" stroke-width="1.2"/>
<circle cx="323.7" cy="288.1" r="2.6" fill="#e5c648" stroke="#000" stroke-width="1.2"/>
<circle cx="316.1" cy="292.7" r="2.6" fill="#e5c648" stroke="#000" stroke-width="1.2"/>
<circle cx="293.5" cy="302.1" r="2.6" fill="#e5c648" stroke="#000" stroke-width="1.2"/>
<circle cx="331.1" cy="302.9" r="2.6" fill="#e5c648" stroke="#000" stroke-width="1.2"/>
<circle cx="300.9" cy="306.6" r="2.6" fill="#e5c648" stroke="#000" stroke-width="1.2"/>
<circle cx="308.3" cy="307.0" r="2.6" fill="#e5c648" stroke="#000" stroke-width="1.2"/>
<circle cx="316.1" cy="307.0" r="2.6" fill="#e5c648" stroke="#000" stroke-width="1.2"/>
<circle cx="323.7" cy="306.6" r="2.6" fill="#e5c648" stroke="#000" stroke-width="1.2"/>
<circle cx="338.5" cy="307.9" r="2.6" fill="#e5c648" stroke="#000" stroke-width="1.2"/>
<circle cx="331.1" cy="309.6" r="2.6" fill="#e5c648" stroke="#000" stroke-width="1.2"/>
<circle cx="308.5" cy="312.3" r="2.6" fill="#e5c648" stroke="#000" stroke-width="1.2"/>
<circle cx="323.7" cy="312.9" r="2.6" fill="#e5c648" stroke="#000" stroke-width="1.2"/>
<circle cx="316.1" cy="314.6" r="2.6" fill="#e5c648" stroke="#000" stroke-width="1.2"/>
<circle cx="290.1" cy="315.3" r="2.6" fill="#e5c648" stroke="#000" stroke-width="1.2"/>
<circle cx="297.5" cy="317.3" r="2.6" fill="#e5c648" stroke="#000" stroke-width="1.2"/>
<circle cx="342.6" cy="315.0" r="2.6" fill="#e5c648" stroke="#000" stroke-width="1.2"/>
<circle cx="335.2" cy="316.0" r="2.6" fill="#e5c648" stroke="#000" stroke-width="1.2"/>
<circle cx="304.9" cy="318.7" r="2.6" fill="#e5c648" stroke="#000" stroke-width="1.2"/>
<circle cx="312.3" cy="319.3" r="2.6" fill="#e5c648" stroke="#000" stroke-width="1.2"/>
<circle cx="320.4" cy="319.3" r="2.6" fill="#e5c648" stroke="#000" stroke-width="1.2"/>
<circle cx="327.8" cy="318.7" r="2.6" fill="#e5c648" stroke="#000" stroke-width="1.2"/>
<circle cx="338.5" cy="320.0" r="2.6" fill="#e5c648" stroke="#000" stroke-width="1.2"/>
<circle cx="293.5" cy="320.7" r="2.6" fill="#e5c648" stroke="#000" stroke-width="1.2"/>
<circle cx="289.45" cy="324.06" r="2.6" fill="#e5c648" stroke="#000" stroke-width="1.2"/>
<circle cx="296.64" cy="324.39" r="2.6" fill="#e5c648" stroke="#000" stroke-width="1.2"/>
<circle cx="304.19" cy="323.59" r="2.6" fill="#e5c648" stroke="#000" stroke-width="1.2"/>
<circle cx="311.99" cy="323.73" r="2.6" fill="#e5c648" stroke="#000" stroke-width="1.2"/>
<circle cx="319.78" cy="323.57" r="2.6" fill="#e5c648" stroke="#000" stroke-width="1.2"/>
<circle cx="326.9" cy="323.71" r="2.6" fill="#e5c648" stroke="#000" stroke-width="1.2"/>
<circle cx="334.64" cy="324.01" r="2.6" fill="#e5c648" stroke="#000" stroke-width="1.2"/>
<circle cx="342.14" cy="324.72" r="2.6" fill="#e5c648" stroke="#000" stroke-width="1.2"/>
<circle cx="293.56" cy="327.91" r="2.6" fill="#e5c648" stroke="#000" stroke-width="1.2"/>
<circle cx="300.65" cy="328.19" r="2.6" fill="#e5c648" stroke="#000" stroke-width="1.2"/>
<circle cx="308.41" cy="327.87" r="2.6" fill="#e5c648" stroke="#000" stroke-width="1.2"/>
<circle cx="316.69" cy="329.09" r="2.6" fill="#e5c648" stroke="#000" stroke-width="1.2"/>
<circle cx="323.75" cy="328.38" r="2.6" fill="#e5c648" stroke="#000" stroke-width="1.2"/>
<circle cx="330.82" cy="327.84" r="2.6" fill="#e5c648" stroke="#000" stroke-width="1.2"/>
<circle cx="338.78" cy="328.07" r="2.6" fill="#e5c648" stroke="#000" stroke-width="1.2"/>
<circle cx="290.06" cy="332.13" r="2.6" fill="#e5c648" stroke="#000" stroke-width="1.2"/>
<circle cx="296.53" cy="333.23" r="2.6" fill="#e5c648" stroke="#000" stroke-width="1.2"/>
<circle cx="304.84" cy="332.11" r="2.6" fill="#e5c648" stroke="#000" stroke-width="1.2"/>
<circle cx="312.46" cy="331.94" r="2.6" fill="#e5c648" stroke="#000" stroke-width="1.2"/>
<circle cx="320.04" cy="333.27" r="2.6" fill="#e5c648" stroke="#000" stroke-width="1.2"/>
<circle cx="328.11" cy="332.87" r="2.6" fill="#e5c648" stroke="#000" stroke-width="1.2"/>
<circle cx="334.87" cy="332.41" r="2.6" fill="#e5c648" stroke="#000" stroke-width="1.2"/>
<circle cx="342.33" cy="332.98" r="2.6" fill="#e5c648" stroke="#000" stroke-width="1.2"/>
<circle cx="293.45" cy="337.19" r="2.6" fill="#e5c648" stroke="#000" stroke-width="1.2"/>
<circle cx="300.76" cy="336.41" r="2.6" fill="#e5c648" stroke="#000" stroke-width="1.2"/>
<circle cx="309.04" cy="337.48" r="2.6" fill="#e5c648" stroke="#000" stroke-width="1.2"/>
<circle cx="316.69" cy="337.23" r="2.6" fill="#e5c648" stroke="#000" stroke-width="1.2"/>
<circle cx="324.25" cy="337.14" r="2.6" fill="#e5c648" stroke="#000" stroke-width="1.2"/>
<circle cx="331.02" cy="336.82" r="2.6" fill="#e5c648" stroke="#000" stroke-width="1.2"/>
<circle cx="338.8" cy="336.14" r="2.6" fill="#e5c648" stroke="#000" stroke-width="1.2"/>
<circle cx="288.94" cy="340.69" r="2.6" fill="#e5c648" stroke="#000" stroke-width="1.2"/>
<circle cx="296.86" cy="341.27" r="2.6" fill="#e5c648" stroke="#000" stroke-width="1.2"/>
<circle cx="305.44" cy="340.93" r="2.6" fill="#e5c648" stroke="#000" stroke-width="1.2"/>
<circle cx="313.01" cy="341.68" r="2.6" fill="#e5c648" stroke="#000" stroke-width="1.2"/>
<circle cx="320.64" cy="340.81" r="2.6" fill="#e5c648" stroke="#000" stroke-width="1.2"/>
<circle cx="327.21" cy="340.62" r="2.6" fill="#e5c648" stroke="#000" stroke-width="1.2"/>
<circle cx="334.78" cy="340.59" r="2.6" fill="#e5c648" stroke="#000" stroke-width="1.2"/>
<circle cx="342.97" cy="341.56" r="2.6" fill="#e5c648" stroke="#000" stroke-width="1.2"/>
<circle cx="293.88" cy="345.17" r="2.6" fill="#e5c648" stroke="#000" stroke-width="1.2"/>
<circle cx="301.21" cy="345.62" r="2.6" fill="#e5c648" stroke="#000" stroke-width="1.2"/>
<circle cx="308.02" cy="345.42" r="2.6" fill="#e5c648" stroke="#000" stroke-width="1.2"/>
<circle cx="316.77" cy="345.6" r="2.6" fill="#e5c648" stroke="#000" stroke-width="1.2"/>
<circle cx="324.15" cy="345.17" r="2.6" fill="#e5c648" stroke="#000" stroke-width="1.2"/>
<circle cx="330.95" cy="345.6" r="2.6" fill="#e5c648" stroke="#000" stroke-width="1.2"/>
<circle cx="338.77" cy="345.62" r="2.6" fill="#e5c648" stroke="#000" stroke-width="1.2"/>
<circle cx="297.86" cy="349.25" r="2.6" fill="#e5c648" stroke="#000" stroke-width="1.2"/>
<circle cx="304.66" cy="350.03" r="2.6" fill="#e5c648" stroke="#000" stroke-width="1.2"/>
<circle cx="312.71" cy="348.94" r="2.6" fill="#e5c648" stroke="#000" stroke-width="1.2"/>
<circle cx="319.48" cy="348.91" r="2.6" fill="#e5c648" stroke="#000" stroke-width="1.2"/>
<circle cx="328.17" cy="349.83" r="2.6" fill="#e5c648" stroke="#000" stroke-width="1.2"/>
<circle cx="334.7" cy="349.86" r="2.6" fill="#e5c648" stroke="#000" stroke-width="1.2"/>
<circle cx="301.67" cy="353.82" r="2.6" fill="#e5c648" stroke="#000" stroke-width="1.2"/>
<circle cx="308.39" cy="353.67" r="2.6" fill="#e5c648" stroke="#000" stroke-width="1.2"/>
<circle cx="315.68" cy="352.92" r="2.6" fill="#e5c648" stroke="#000" stroke-width="1.2"/>
<circle cx="324.46" cy="353.81" r="2.6" fill="#e5c648" stroke="#000" stroke-width="1.2"/>
<circle cx="331.44" cy="354.21" r="2.6" fill="#e5c648" stroke="#000" stroke-width="1.2"/>
<circle cx="323.7" cy="357.5" r="2.6" fill="#e5c648" stroke="#000" stroke-width="1.2"/>
<circle cx="316.1" cy="361.3" r="2.6" fill="#e5c648" stroke="#000" stroke-width="1.2"/>
<line x1="190.7" y1="336.8" x2="253.8" y2="336.8" stroke="#b0203a" stroke-width="2.2"/>
<line x1="285.4" y1="332.1" x2="347.3" y2="332.1" stroke="#b0203a" stroke-width="2.2"/>
<rect x="1" y="1" width="518" height="397" fill="none" stroke="#000" stroke-width="2"/>
</svg>
</body></html>
